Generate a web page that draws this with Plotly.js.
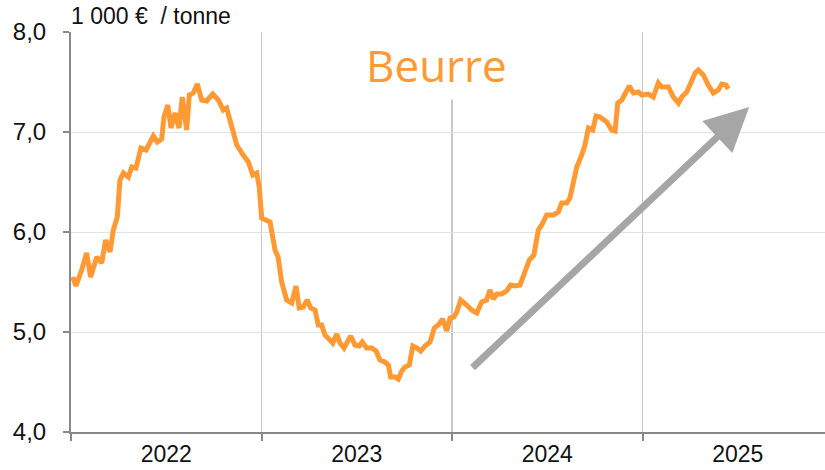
<!DOCTYPE html>
<html>
<head>
<meta charset="utf-8">
<script src="https://cdn.plot.ly/plotly-3.0.1.min.js"></script>
<style>html,body{margin:0;padding:0;background:#fff;}#chart{width:825px;height:470px;}</style>
</head>
<body>
<div id="chart"></div>
<script>
// Time as decimal years (offset from 2022), price in 1 000 € / tonne
const yearOffset = [0.009,0.026,0.056,0.082,0.103,0.135,0.161,0.182,0.205,0.222,0.243,0.257,0.275,0.301,0.319,0.341,0.367,0.394,0.432,0.453,0.476,0.488,0.508,0.525,0.546,0.567,0.584,0.607,0.621,0.642,0.663,0.686,0.712,0.744,0.773,0.799,0.817,0.844,0.870,0.904,0.931,0.954,0.975,0.988,
1.001,1.045,1.071,1.087,1.106,1.132,1.159,1.181,1.198,1.219,1.240,1.258,1.281,1.298,1.316,1.333,1.360,1.374,1.395,1.412,1.433,1.450,1.468,1.491,1.513,1.529,1.552,1.578,1.601,1.622,1.648,1.666,1.678,1.701,1.718,1.736,1.753,1.776,1.794,1.815,1.836,1.858,1.885,1.907,1.928,1.951,1.972,1.990,
2.010,2.025,2.046,2.077,2.103,2.130,2.156,2.182,2.199,2.217,2.235,2.261,2.287,2.308,2.331,2.357,2.383,2.406,2.430,2.453,2.471,2.497,2.532,2.558,2.576,2.602,2.619,2.637,2.655,2.681,2.698,2.716,2.739,2.756,2.777,2.812,2.838,2.856,2.870,2.891,2.908,2.931,2.952,2.978,2.996,
3.031,3.057,3.083,3.101,3.136,3.162,3.189,3.206,3.232,3.249,3.276,3.293,3.319,3.345,3.372,3.398,3.416,3.438,3.450];
const butterPrice = [5.55,5.46,5.62,5.79,5.55,5.75,5.69,5.92,5.80,6.02,6.15,6.52,6.59,6.55,6.65,6.64,6.84,6.82,6.96,6.90,6.93,7.15,7.27,7.04,7.19,7.04,7.35,7.02,7.37,7.39,7.48,7.32,7.31,7.38,7.32,7.22,7.24,7.05,6.87,6.77,6.70,6.57,6.59,6.45,
6.14,6.10,5.82,5.75,5.50,5.32,5.29,5.46,5.24,5.25,5.32,5.24,5.22,5.07,5.07,4.97,4.92,4.89,4.98,4.89,4.84,4.90,4.96,4.87,4.86,4.90,4.84,4.84,4.81,4.72,4.70,4.67,4.55,4.55,4.53,4.61,4.65,4.67,4.86,4.84,4.81,4.86,4.90,5.04,5.07,5.13,5.01,5.14,
5.15,5.20,5.32,5.27,5.22,5.19,5.30,5.32,5.42,5.33,5.38,5.38,5.41,5.47,5.46,5.47,5.59,5.72,5.77,6.02,6.07,6.17,6.17,6.20,6.29,6.29,6.34,6.50,6.65,6.77,6.87,7.04,7.02,7.16,7.15,7.10,7.02,7.01,7.29,7.32,7.39,7.46,7.39,7.40,7.37,
7.38,7.35,7.49,7.45,7.45,7.35,7.29,7.35,7.40,7.47,7.59,7.62,7.57,7.47,7.39,7.42,7.48,7.47,7.43];
const startYear = 2022;
const years = [2022, 2023, 2024, 2025];
const yearLabels = ['2022', '2023', '2024', '2025'];
const trendFrom = [2024.10, 4.63];
const trendTo = [2025.56, 7.25];

const xVals = yearOffset.map(d => startYear + d);

const trace = {
  x: xVals, y: butterPrice, type: 'scatter', mode: 'lines',
  line: {color: '#ff9933', width: 5, shape: 'linear'},
  hoverinfo: 'skip'
};

const layout = {
  width: 825, height: 470,
  margin: {l: 71, r: 0, t: 32, b: 38},
  paper_bgcolor: '#ffffff', plot_bgcolor: '#ffffff',
  separators: ', ',
  showlegend: false,
  font: {family: 'Liberation Sans, Arial, sans-serif', color: '#111111'},
  xaxis: {
    range: [2022, 2025.958],
    tickvals: years.map(y => y + 0.5),
    ticktext: yearLabels,
    ticks: '', showgrid: false, zeroline: false,
    showline: true, linecolor: '#888888', linewidth: 2,
    tickfont: {size: 23, color: '#111111'},
    minor: {tickvals: years, showgrid: true, gridcolor: '#c8c8c8', gridwidth: 1.5,
            ticks: 'outside', ticklen: 7, tickcolor: '#888888', tickwidth: 2}
  },
  yaxis: {
    range: [4, 8], dtick: 1, tick0: 4, tickformat: '.1f',
    ticks: 'outside', ticklen: 6, tickcolor: '#888888', tickwidth: 2,
    showline: true, linecolor: '#888888', linewidth: 2,
    showgrid: true, gridcolor: '#e2e2e2', gridwidth: 1, zeroline: false,
    tickfont: {size: 24, color: '#111111'},
    ticklabelstandoff: 12
  },
  annotations: [
    {text: '1 000 €  / tonne', xref: 'paper', yref: 'paper', x: -0.002, y: 1.0,
     xanchor: 'left', yanchor: 'bottom', yshift: 1, showarrow: false,
     font: {size: 23, color: '#111111', family: 'Liberation Sans, Arial, sans-serif'}},
    {text: 'Beurre', xref: 'paper', yref: 'paper', x: 0.485, y: 0.9175,
     xanchor: 'center', yanchor: 'middle', showarrow: false,
     bgcolor: '#ffffff', borderpad: 4,
     font: {size: 44, color: '#ff9933', family: 'Open Sans, sans-serif'}},
    {text: '', xref: 'x', yref: 'y', axref: 'x', ayref: 'y',
     x: trendTo[0], y: trendTo[1], ax: trendFrom[0], ay: trendFrom[1],
     showarrow: true, arrowhead: 2, arrowsize: 1.25, arrowwidth: 7,
     arrowcolor: '#a6a6a6', standoff: 0, startstandoff: 0}
  ]
};

Plotly.newPlot('chart', [trace], layout, {staticPlot: true, displayModeBar: false});
</script>
</body>
</html>
